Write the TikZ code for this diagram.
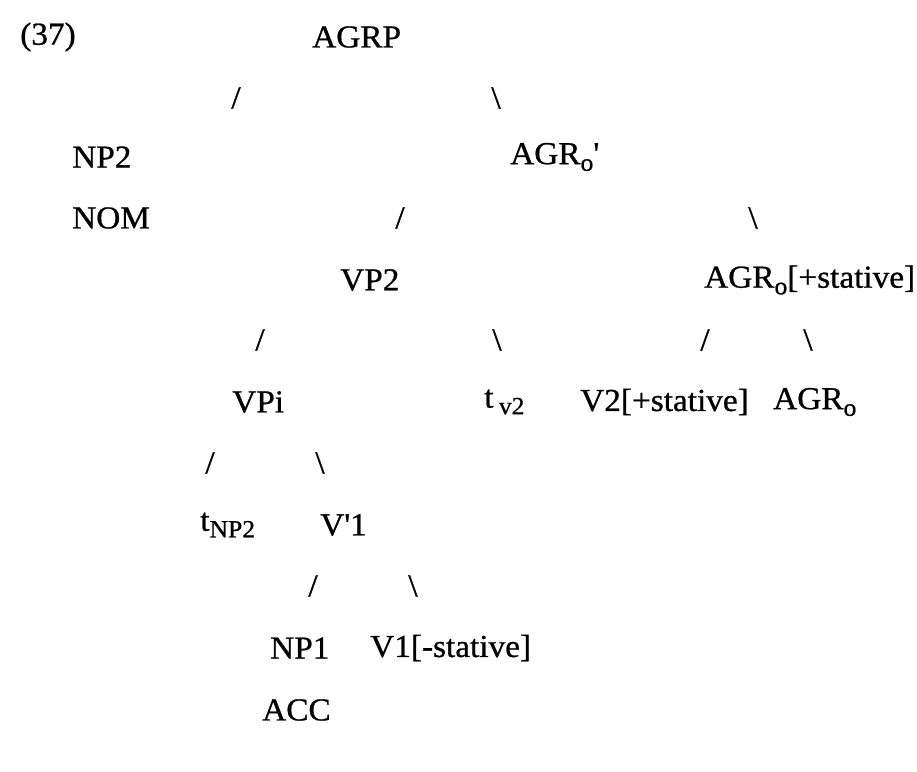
\documentclass[tikz,border=0pt]{standalone}
\usepackage{fontspec}
\setmainfont{Liberation Serif}[FakeStretch=1.04,FakeBold=0.8]
\newcommand{\lowsub}[1]{\raisebox{-0.45ex}{\fontsize{18.5}{20}\selectfont #1}}
\begin{document}
\begin{tikzpicture}[x=0.75pt,y=-0.75pt,
  lab/.style={anchor=west,inner sep=0pt,font=\fontsize{24}{28}\selectfont},
  br/.style={inner sep=0pt,font=\fontsize{24}{28}\selectfont}]
\useasboundingbox (0,0) rectangle (917,771);

% example number and root
\node[lab] (num) at (20,37) {(37)};
\node[lab] (agrp) at (312,37) {AGRP};
\node[br] (b1l) at (236,98) {/};
\node[br] (b1r) at (496,98) {\textbackslash};

% second level
\node[lab] (np2) at (72,157) {NP2};
\node[lab] (nom) at (72,218) {NOM};
\node[lab] (agrbar) at (510,157) {AGR\lowsub{o}\textquotesingle};
\node[br] (b2l) at (400,218) {/};
\node[br] (b2r) at (753,218) {\textbackslash};

% third level
\node[lab] (vp2) at (340,280) {VP2};
\node[lab] (agrst) at (704,280) {AGR\lowsub{o}[+stative]};
\node[br] (b3l) at (260,340) {/};
\node[br] (b3r) at (497,340) {\textbackslash};
\node[br] (b4l) at (705,340) {/};
\node[br] (b4r) at (808,340) {\textbackslash};

% fourth level
\node[lab] (vp1) at (232,402) {VPi};
\node[lab] (tv2) at (484,402) {t\,\lowsub{v2}};
\node[lab] (v2) at (580,402) {V2[+stative]};
\node[lab] (agro) at (773,402) {AGR\lowsub{o}};
\node[br] (b5l) at (210,463) {/};
\node[br] (b5r) at (320,463) {\textbackslash};

% fifth level
\node[lab] (tnp2) at (200,525) {t\lowsub{NP2}};
\node[lab] (v1bar) at (320,525) {V\textquotesingle1};
\node[br] (b6l) at (313,586) {/};
\node[br] (b6r) at (413,586) {\textbackslash};

% bottom
\node[lab] (np1) at (270,648) {NP1};
\node[lab] (acc) at (262,710) {ACC};
\node[lab] (v1) at (370,648) {V1[-stative]};

\end{tikzpicture}
\end{document}
